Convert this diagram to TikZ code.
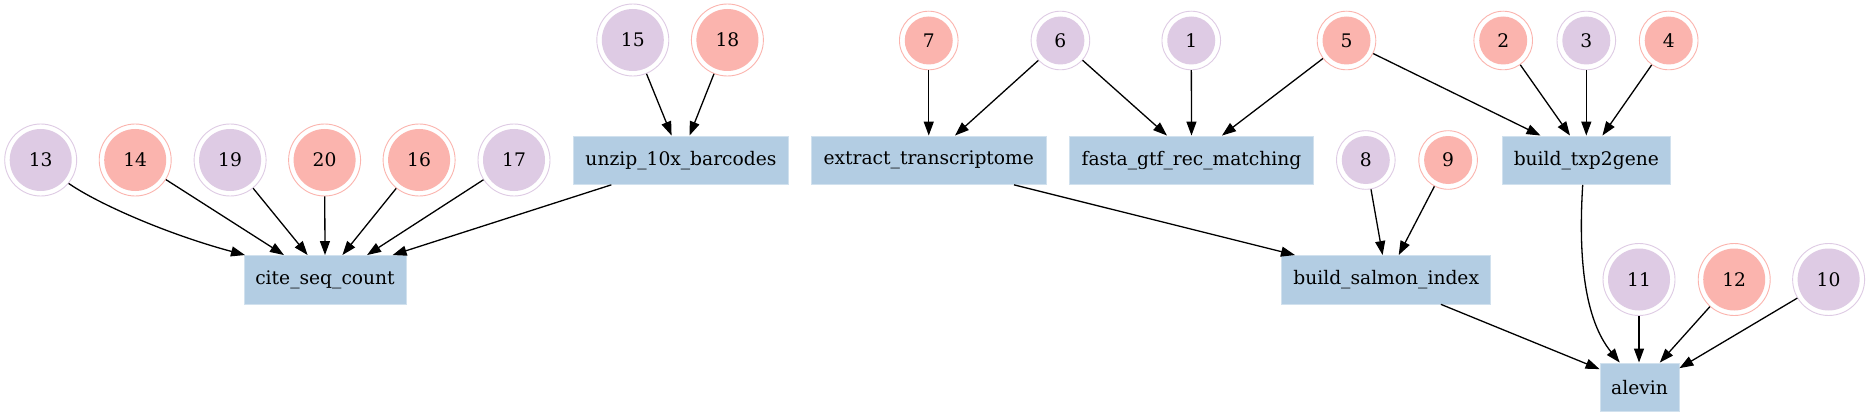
\documentclass[tikz,border=0pt]{standalone}
\usepackage{fontspec}
\setmainfont{DejaVu Serif}
\usetikzlibrary{arrows.meta}
\definecolor{boxblue}{HTML}{B3CDE3}
\definecolor{pinkc}{HTML}{FBB4AE}
\definecolor{lilac}{HTML}{DECBE4}
\newcommand{\lblfont}{\fontsize{18.67}{22}\selectfont}
\tikzset{
  proc/.style={rectangle, fill=boxblue, draw=boxblue!60!white, line width=0.8pt,
    minimum height=48.5pt, inner sep=0pt, font=\lblfont},
  bigc/.style={circle, minimum size=72pt, inner sep=0pt, draw=#1, line width=0.9pt,
    path picture={\fill[#1] (path picture bounding box.center) circle (31pt);}, font=\lblfont},
  smallc/.style={circle, minimum size=58.6pt, inner sep=0pt, draw=#1, line width=0.9pt,
    path picture={\fill[#1] (path picture bounding box.center) circle (24pt);}, font=\lblfont},
  conn/.style={-{Triangle[length=14pt,width=10pt]}, line width=1.3pt, black}
}
\begin{document}
\begin{tikzpicture}[x=1pt,y=-1pt]
\path[fill=white,use as bounding box] (0,0) rectangle (1870,417);

% process boxes
\node[proc, minimum width=162pt]   (cite)    at (325,279.7)    {cite\_seq\_count};
\node[proc, minimum width=215pt]   (unzip)   at (681,160.2)    {unzip\_10x\_barcodes};
\node[proc, minimum width=235.7pt] (extract) at (928.75,160.2) {extract\_transcriptome};
\node[proc, minimum width=244pt]   (fasta)   at (1191.5,160.2) {fasta\_gtf\_rec\_matching};
\node[proc, minimum width=168.7pt] (txp)     at (1586.3,160.2) {build\_txp2gene};
\node[proc, minimum width=209pt]   (salmon)  at (1386.2,279.7) {build\_salmon\_index};
\node[proc, minimum width=79pt]    (alevin)  at (1639.5,387.2) {alevin};

% input circles
\node[bigc=lilac] (n13) at (40.7,160) {13};
\node[bigc=pinkc] (n14) at (135.2,160) {14};
\node[bigc=lilac] (n19) at (230.1,160) {19};
\node[bigc=pinkc] (n20) at (324.6,160) {20};
\node[bigc=pinkc] (n16) at (419.1,160) {16};
\node[bigc=lilac] (n17) at (514,160) {17};
\node[bigc=lilac] (n15) at (632.8,40) {15};
\node[bigc=pinkc] (n18) at (727.4,40) {18};
\node[bigc=lilac] (n11) at (1639,279.5) {11};
\node[bigc=pinkc] (n12) at (1734.2,279.5) {12};
\node[bigc=lilac] (n10) at (1828.6,279.5) {10};

\node[smallc=pinkc] (n7) at (928.75,40.5) {7};
\node[smallc=lilac] (n6) at (1060.4,40.5) {6};
\node[smallc=lilac] (n1) at (1191.25,40.5) {1};
\node[smallc=pinkc] (n5) at (1346.5,40.5) {5};
\node[smallc=pinkc] (n2) at (1503.2,40.5) {2};
\node[smallc=lilac] (n3) at (1586.3,40.5) {3};
\node[smallc=pinkc] (n4) at (1668.7,40.5) {4};
\node[smallc=lilac] (n8) at (1365.8,160) {8};
\node[smallc=pinkc] (n9) at (1448.1,160) {9};

% edges into cite_seq_count
\draw[conn] (n13.-40) .. controls (100,205) and (170,235) .. ([xshift=-80pt]cite.north);
\draw[conn] (n14) -- ([xshift=-41pt]cite.north);
\draw[conn] (n19) -- ([xshift=-17.4pt]cite.north);
\draw[conn] (n20) -- (cite.north);
\draw[conn] (n16) -- ([xshift=17.4pt]cite.north);
\draw[conn] (n17) -- ([xshift=42pt]cite.north);
\draw[conn] ([xshift=-69.7pt]unzip.south) -- ([xshift=67.6pt]cite.north);

% unzip
\draw[conn] (n15) -- ([xshift=-9.4pt]unzip.north);
\draw[conn] (n18) -- ([xshift=8.5pt]unzip.north);

% extract
\draw[conn] (n7) -- (extract.north);
\draw[conn] (n6) -- ([xshift=26.25pt]extract.north);

% fasta
\draw[conn] (n6) -- ([xshift=-24.5pt]fasta.north);
\draw[conn] (n1) -- (fasta.north);
\draw[conn] (n5) -- ([xshift=30.5pt]fasta.north);

% txp2gene
\draw[conn] (n5) -- ([xshift=-45.8pt]txp.north);
\draw[conn] (n2) -- ([xshift=-16.3pt]txp.north);
\draw[conn] (n3) -- (txp.north);
\draw[conn] (n4) -- ([xshift=16.1pt]txp.north);

% salmon
\draw[conn] ([xshift=85.25pt]extract.south) -- ([xshift=-91.2pt]salmon.north);
\draw[conn] (n8) -- ([xshift=-3.6pt]salmon.north);
\draw[conn] (n9) -- ([xshift=12.5pt]salmon.north);

% alevin
\draw[conn] ([xshift=54.7pt]salmon.south) -- ([yshift=-6.6pt]alevin.north west);
\draw[conn] ([xshift=-3.6pt]txp.south) .. controls (1578,260) and (1585,320) .. ([xshift=-19.8pt]alevin.north);
\draw[conn] (n11) -- ([xshift=-0.5pt]alevin.north);
\draw[conn] (n12) -- ([xshift=20.3pt]alevin.north);
\draw[conn] (n10) -- ([yshift=-5.6pt]alevin.north east);
\end{tikzpicture}
\end{document}
